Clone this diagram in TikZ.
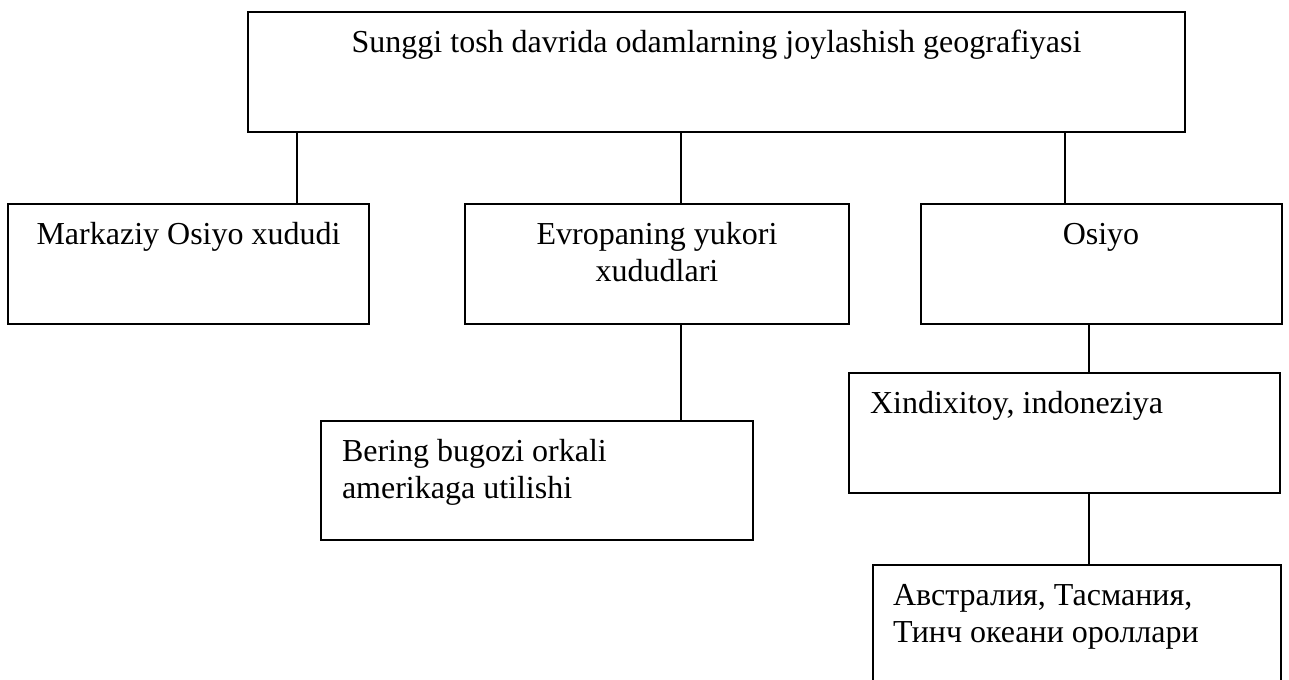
\documentclass[tikz,border=0pt]{standalone}
\usepackage{fontspec}
\setmainfont{Liberation Serif}
\usetikzlibrary{fit}
\begin{document}
\begin{tikzpicture}[x=0.75pt,y=-0.75pt,
  box/.style={draw, line width=1.1pt, inner sep=0pt, outer sep=0pt},
  lbl/.style={inner sep=0pt, outer sep=0pt, font=\fontsize{24}{28}\selectfont},
  conn/.style={line width=1.1pt}]
\useasboundingbox (0,0) rectangle (1289,679);
\clip (0,0) rectangle (1289,679);
% boxes
\node[box, fit={(248,12) (1185,132)}] (top) {};
\node[box, fit={(8,204) (369,324)}] (b1) {};
\node[box, fit={(465,204) (849,324)}] (b2) {};
\node[box, fit={(921,204) (1282,324)}] (b3) {};
\node[box, fit={(321,421) (753,540)}] (b4) {};
\node[box, fit={(849,373) (1280,493)}] (b5) {};
\node[box, fit={(873,565) (1281,700)}] (b6) {};
% texts
\node[lbl, anchor=base] (t0) at (716.5,52) {Sunggi tosh davrida odamlarning joylashish geografiyasi};
\node[lbl, anchor=base] (t1) at (188.5,244) {Markaziy Osiyo xududi};
\node[lbl, anchor=base, align=center] (t2) at (657,281.5) {Evropaning yukori\\xududlari};
\node[lbl, anchor=base] (t3) at (1101,244) {Osiyo};
\node[lbl, anchor=base west, align=left] (t4) at (342,498.5) {Bering bugozi orkali\\amerikaga utilishi};
\node[lbl, anchor=base west] (t5) at (870,413) {Xindixitoy, indoneziya};
\node[lbl, anchor=base west, align=left] (t6) at (893,642.5) {Австралия, Тасмания,\\Тинч океани ороллари};
% connectors
\coordinate (xa) at (297,0);
\coordinate (xb) at (681,0);
\coordinate (xc) at (1065,0);
\coordinate (xd) at (1089,0);
\draw[conn] (top.south -| xa) -- (b1.north -| xa);
\draw[conn] (top.south -| xb) -- (b2.north -| xb);
\draw[conn] (top.south -| xc) -- (b3.north -| xc);
\draw[conn] (b2.south -| xb) -- (b4.north -| xb);
\draw[conn] (b3.south -| xd) -- (b5.north -| xd);
\draw[conn] (b5.south -| xd) -- (b6.north -| xd);
\end{tikzpicture}
\end{document}
